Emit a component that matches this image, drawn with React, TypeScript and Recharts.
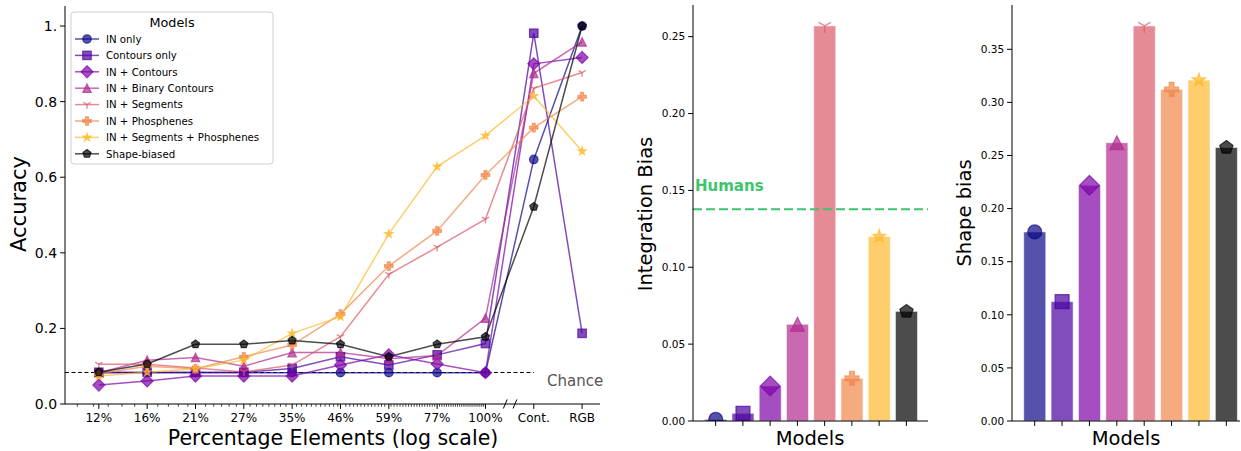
import React from 'react';
import { LineChart, Line, XAxis, YAxis, ReferenceLine, BarChart, Bar } from 'recharts';

const FONT = '"DejaVu Sans", Verdana, sans-serif';

// ---------- categories / styles ----------
const modelNames = [
  'IN only',
  'Contours only',
  'IN + Contours',
  'IN + Binary Contours',
  'IN + Segments',
  'IN + Phosphenes',
  'IN + Segments + Phosphenes',
  'Shape-biased',
];
const modelColors = ['#0d0887', '#4c02a1', '#7e03a8', '#b12a90', '#da5a6a', '#f1864a', '#fcb92c', '#000000'];
const modelMarkers = ['circle', 'square', 'diamond', 'triangle', 'tri_down', 'plus', 'star', 'pentagon'];

// ---------- left chart data ----------
const xLabels = ['12%', '16%', '21%', '27%', '35%', '46%', '59%', '77%', '100%', 'Cont.', 'RGB'];
const accINOnly = [0.083, 0.083, 0.083, 0.083, 0.083, 0.083, 0.083, 0.083, 0.083, 0.647, 1.0];
const accContoursOnly = [0.084, 0.084, 0.084, 0.084, 0.094, 0.125, 0.103, 0.13, 0.16, 0.981, 0.187];
const accINContours = [0.05, 0.061, 0.074, 0.074, 0.074, 0.103, 0.13, 0.106, 0.083, 0.9, 0.917];
const accINBinary = [0.083, 0.116, 0.123, 0.1, 0.136, 0.136, 0.12, 0.128, 0.227, 0.875, 0.958];
const accINSegments = [0.105, 0.105, 0.095, 0.085, 0.103, 0.178, 0.343, 0.415, 0.489, 0.835, 0.877];
const accINPhosphenes = [0.08, 0.1, 0.093, 0.125, 0.156, 0.238, 0.365, 0.458, 0.606, 0.731, 0.813];
const accINSegPhos = [0.074, 0.084, 0.093, 0.116, 0.187, 0.231, 0.45, 0.628, 0.71, 0.815, 0.669];
const accShapeBiased = [0.084, 0.106, 0.158, 0.158, 0.168, 0.158, 0.125, 0.158, 0.178, 0.522, 1.0];
const accSeries = [
  accINOnly, accContoursOnly, accINContours, accINBinary,
  accINSegments, accINPhosphenes, accINSegPhos, accShapeBiased,
];
const chanceLevel = 0.0833;
const accYTicks = [0, 0.2, 0.4, 0.6, 0.8, 1.0];

// ---------- bar charts data ----------
const integrationBias = [0.001, 0.005, 0.0228, 0.0629, 0.257, 0.0278, 0.12, 0.0713];
const shapeBias = [0.178, 0.1124, 0.222, 0.262, 0.372, 0.3123, 0.321, 0.2575];
const humanIntegrationBias = 0.1377;
const intTicks = [0, 0.05, 0.1, 0.15, 0.2, 0.25];
const shapeTicks = [0, 0.05, 0.1, 0.15, 0.2, 0.25, 0.3, 0.35];

// ---------- markers ----------
type MarkerProps = { shape: string; cx: number; cy: number; ms: number; color: string; opacity?: number; ew?: number };
function Marker({ shape, cx, cy, ms, color, opacity = 0.7, ew = 1.2 }: MarkerProps) {
  const common = { fill: color, fillOpacity: opacity, stroke: color, strokeOpacity: opacity, strokeWidth: ew };
  const h = ms / 2;
  const poly = (pts: number[][]) => pts.map((p) => `${cx + p[0]},${cy + p[1]}`).join(' ');
  switch (shape) {
    case 'circle':
      return <circle cx={cx} cy={cy} r={h} {...common} />;
    case 'square':
      return <rect x={cx - h} y={cy - h} width={ms} height={ms} {...common} />;
    case 'diamond': {
      const d = ms * 0.707;
      return <polygon points={poly([[0, -d], [d, 0], [0, d], [-d, 0]])} {...common} />;
    }
    case 'triangle':
      return <polygon points={poly([[0, -h], [h, h], [-h, h]])} {...common} />;
    case 'tri_down': {
      const p = [[0, h], [-h * 0.866, -h * 0.5], [h * 0.866, -h * 0.5]];
      return (
        <g stroke={color} strokeOpacity={opacity} strokeWidth={ew + 0.2} fill="none">
          {p.map((q, i) => (
            <line key={i} x1={cx} y1={cy} x2={cx + q[0]} y2={cy + q[1]} />
          ))}
        </g>
      );
    }
    case 'plus': {
      const w = ms / 6;
      return (
        <polygon
          points={poly([
            [-w, -h], [w, -h], [w, -w], [h, -w], [h, w], [w, w],
            [w, h], [-w, h], [-w, w], [-h, w], [-h, -w], [-w, -w],
          ])}
          {...common}
        />
      );
    }
    case 'star': {
      const pts: number[][] = [];
      for (let k = 0; k < 10; k++) {
        const a = ((-90 + k * 36) * Math.PI) / 180;
        const r = k % 2 === 0 ? h : h * 0.382;
        pts.push([r * Math.cos(a), r * Math.sin(a)]);
      }
      return <polygon points={poly(pts)} {...common} />;
    }
    case 'pentagon': {
      const pts: number[][] = [];
      for (let k = 0; k < 5; k++) {
        const a = ((-90 + k * 72) * Math.PI) / 180;
        pts.push([h * Math.cos(a), h * Math.sin(a)]);
      }
      return <polygon points={poly(pts)} {...common} />;
    }
    default:
      return null;
  }
}

// ---------- left chart helpers ----------
const lineRows = xLabels.map((lab, i) => {
  const row: any = { x: i, label: lab };
  accSeries.forEach((s, k) => {
    row[`s${k}`] = s[i];
  });
  return row;
});

const LOG_STEP = Math.log(1 / 0.77);
const X_MIN = -0.7;
const X_MAX = 10.37;
const minorTicks: number[] = [];
for (let p = 10; p < 100; p++) {
  const idx = 8 + Math.log(p / 100) / LOG_STEP;
  if (idx >= X_MIN && Math.abs(idx - Math.round(idx)) > 0.03) minorTicks.push(idx);
}
const majorTicks = xLabels.map((_, i) => i);
const allXTicks = [...majorTicks, ...minorTicks].sort((a, b) => a - b);

const XTick = (props: any) => {
  const { x, y, payload } = props;
  const v = payload.value as number;
  const r = Math.round(v);
  if (Math.abs(v - r) < 1e-6) {
    return (
      <g>
        <line x1={x} x2={x} y1={y} y2={y + 4.9} stroke="#000" strokeWidth={1} />
        <text x={x} y={y + 18} textAnchor="middle" fontSize={12} fontFamily={FONT} fill="#000">
          {xLabels[r]}
        </text>
      </g>
    );
  }
  return <line x1={x} x2={x} y1={y} y2={y + 2.8} stroke="#000" strokeWidth={0.7} />;
};

const EmptyTick = () => <g />;

const HumansLabel = (props: any) => {
  const vb = props.viewBox || { x: 0, y: 0 };
  return (
    <text x={vb.x + 2} y={vb.y - 18} fill="#3dc46e" fontWeight="bold" fontSize={15} fontFamily={FONT}>
      Humans
    </text>
  );
};

function makeBarShape(chartKey: string) {
  return (props: any) => {
    const { x, y, width, height, index } = props;
    const color = modelColors[index];
    const base = y + height;
    const clipId = `clip-${chartKey}-${index}`;
    return (
      <g>
        <defs>
          <clipPath id={clipId}>
            <rect x={x - 30} y={0} width={width + 60} height={base} />
          </clipPath>
        </defs>
        <rect x={x} y={y} width={width} height={height} fill={color} fillOpacity={0.7} stroke="#ffffff" strokeOpacity={0.5} strokeWidth={1} />
        <g clipPath={`url(#${clipId})`}>
          <Marker shape={modelMarkers[index]} cx={x + width / 2} cy={y} ms={14} color={color} />
        </g>
      </g>
    );
  };
}

const intRows = modelNames.map((name, i) => ({ name, v: integrationBias[i] }));
const shapeRows = modelNames.map((name, i) => ({ name, v: shapeBias[i] }));

const axisStroke = { stroke: '#000', strokeWidth: 1 };

export default function App() {
  return (
    <div style={{ position: 'absolute', left: 0, top: 0, width: 1241, height: 451, background: '#fff', fontFamily: FONT }}>
      {/* Left: accuracy line chart */}
      <div style={{ position: 'absolute', left: 0, top: 0 }}>
        <LineChart width={620} height={451} data={lineRows} margin={{ top: 6, right: 20, bottom: 0, left: 0 }}>
          <XAxis
            dataKey="x"
            type="number"
            domain={[X_MIN, X_MAX]}
            ticks={allXTicks}
            interval={0}
            tick={<XTick />}
            tickLine={false}
            tickSize={0}
            tickMargin={0}
            height={47}
            axisLine={axisStroke}
            allowDataOverflow
          />
          <YAxis
            type="number"
            domain={[0, 1.053]}
            ticks={accYTicks}
            interval={0}
            tickFormatter={(v: number) => (v === 1 ? '1.' : v.toFixed(1))}
            tick={{ fontSize: 14, fill: '#000', fontFamily: FONT }}
            tickSize={4.9}
            tickMargin={3}
            tickLine={axisStroke}
            axisLine={axisStroke}
            width={65}
            allowDataOverflow
          />
          <ReferenceLine
            segment={[{ x: X_MIN, y: chanceLevel }, { x: 9, y: chanceLevel }]}
            stroke="#000"
            strokeWidth={1}
            strokeDasharray="4 2.5"
            ifOverflow="visible"
          />
          <ReferenceLine segment={[{ x: 8.37, y: -0.012 }, { x: 8.45, y: 0.012 }]} stroke="#000" strokeWidth={1} ifOverflow="visible" />
          <ReferenceLine segment={[{ x: 8.57, y: -0.012 }, { x: 8.65, y: 0.012 }]} stroke="#000" strokeWidth={1} ifOverflow="visible" />
          {accSeries.map((_, k) => (
            <Line
              key={k}
              type="linear"
              dataKey={`s${k}`}
              name={modelNames[k]}
              stroke={modelColors[k]}
              strokeOpacity={0.7}
              strokeWidth={1.5}
              isAnimationActive={false}
              activeDot={false}
              dot={(p: any) => (
                <Marker key={`m${k}-${p.index}`} shape={modelMarkers[k]} cx={p.cx} cy={p.cy} ms={8.5} color={modelColors[k]} />
              )}
            />
          ))}
        </LineChart>
      </div>

      {/* Middle: integration bias */}
      <div style={{ position: 'absolute', left: 620, top: 0 }}>
        <BarChart width={330} height={451} data={intRows} margin={{ top: 5, right: 22, bottom: 0, left: 0 }} barCategoryGap="10%">
          <XAxis
            dataKey="name"
            type="category"
            interval={0}
            tick={<EmptyTick />}
            tickSize={4.9}
            tickLine={axisStroke}
            axisLine={axisStroke}
            padding={{ left: 9, right: 8 }}
            height={30}
          />
          <YAxis
            type="number"
            domain={[0, 0.2706]}
            ticks={intTicks}
            interval={0}
            tickFormatter={(v: number) => v.toFixed(2)}
            tick={{ fontSize: 10.5, fill: '#000', fontFamily: FONT }}
            tickSize={4.9}
            tickMargin={3}
            tickLine={axisStroke}
            axisLine={axisStroke}
            width={73}
            allowDataOverflow
          />
          <Bar dataKey="v" shape={makeBarShape('int')} isAnimationActive={false} />
          <ReferenceLine
            y={humanIntegrationBias}
            stroke="#3dc46e"
            strokeWidth={2}
            strokeDasharray="9 4"
            label={<HumansLabel />}
          />
        </BarChart>
      </div>

      {/* Right: shape bias */}
      <div style={{ position: 'absolute', left: 950, top: 0 }}>
        <BarChart width={291} height={451} data={shapeRows} margin={{ top: 5, right: 1, bottom: 0, left: 0 }} barCategoryGap="10%">
          <XAxis
            dataKey="name"
            type="category"
            interval={0}
            tick={<EmptyTick />}
            tickSize={4.9}
            tickLine={axisStroke}
            axisLine={axisStroke}
            padding={{ left: 9, right: 0 }}
            height={30}
          />
          <YAxis
            type="number"
            domain={[0, 0.3917]}
            ticks={shapeTicks}
            interval={0}
            tickFormatter={(v: number) => v.toFixed(2)}
            tick={{ fontSize: 10.5, fill: '#000', fontFamily: FONT }}
            tickSize={4.9}
            tickMargin={3}
            tickLine={axisStroke}
            axisLine={axisStroke}
            width={62}
            allowDataOverflow
          />
          <Bar dataKey="v" shape={makeBarShape('shape')} isAnimationActive={false} />
        </BarChart>
      </div>

      {/* Titles, legend, annotations */}
      <svg width={1241} height={451} style={{ position: 'absolute', left: 0, top: 0, pointerEvents: 'none' }} fontFamily={FONT}>
        <text x={26} y={204} transform="rotate(-90 26 204)" textAnchor="middle" fontSize={21} fill="#000">Accuracy</text>
        <text x={333} y={445} textAnchor="middle" fontSize={20.5} fill="#000">Percentage Elements (log scale)</text>
        <text x={547} y={386} fontSize={15} fill="#555">Chance</text>

        <text x={652} y={214} transform="rotate(-90 652 214)" textAnchor="middle" fontSize={19.5} fill="#000">Integration Bias</text>
        <text x={810} y={445} textAnchor="middle" fontSize={19.5} fill="#000">Models</text>

        <text x={971} y={213} transform="rotate(-90 971 213)" textAnchor="middle" fontSize={19.5} fill="#000">Shape bias</text>
        <text x={1126} y={445} textAnchor="middle" fontSize={19.5} fill="#000">Models</text>

        {/* legend */}
        <rect x={71} y={12} width={202} height={152} rx={3} fill="#fff" fillOpacity={0.8} stroke="#d0d0d0" strokeWidth={1} />
        <text x={172} y={27} textAnchor="middle" fontSize={12.8} fill="#000">Models</text>
        {modelNames.map((name, i) => {
          const cy = 39 + i * 16.4;
          return (
            <g key={name}>
              <line x1={75} x2={99} y1={cy} y2={cy} stroke={modelColors[i]} strokeOpacity={0.7} strokeWidth={1.5} />
              <Marker shape={modelMarkers[i]} cx={87} cy={cy} ms={8.5} color={modelColors[i]} />
              <text x={106} y={cy + 3.7} fontSize={10.2} fill="#000">{name}</text>
            </g>
          );
        })}
      </svg>
    </div>
  );
}
